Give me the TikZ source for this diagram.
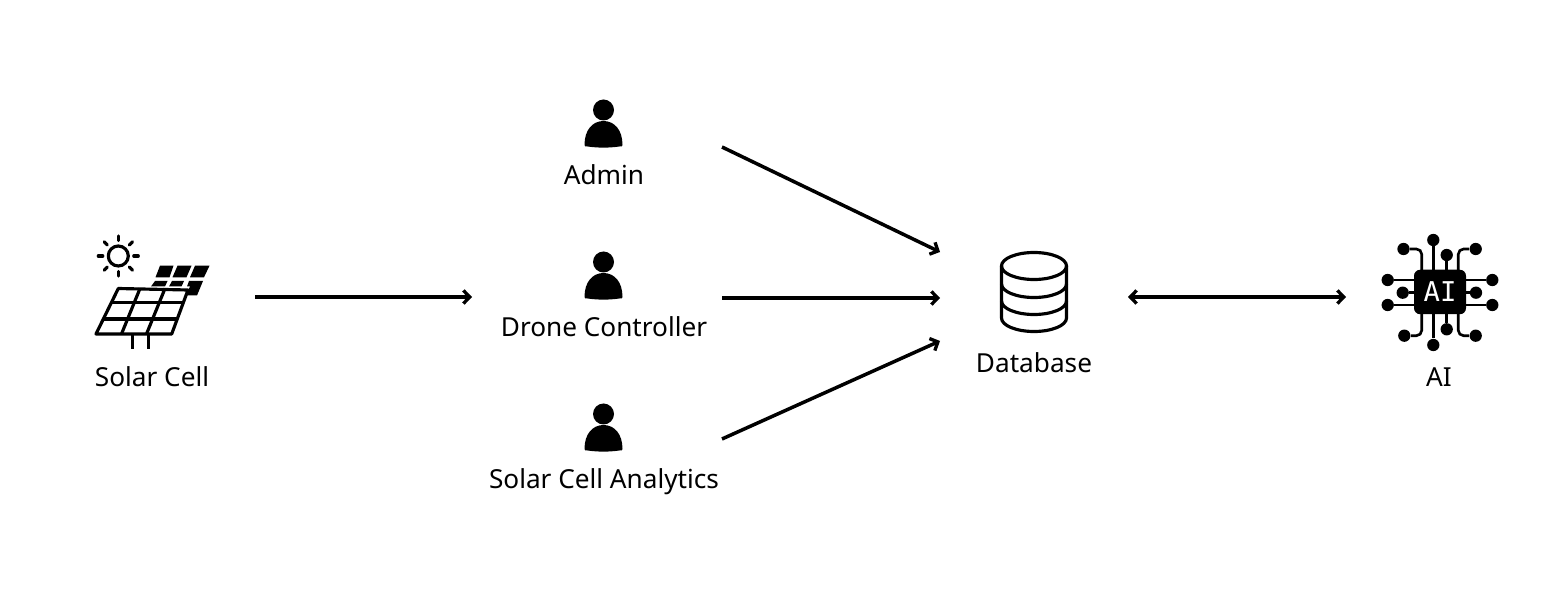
\documentclass[tikz,border=0pt]{standalone}
\usepackage{fontspec}
\setmainfont{Noto Sans}
\newfontfamily\chipfont{DejaVu Sans Mono}
\usetikzlibrary{arrows.meta}
\tikzset{
  label/.style={font=\fontsize{14.9pt}{17pt}\selectfont, inner sep=0pt, text height=12.4pt, text depth=1.6pt},
  flow/.style={line width=2pt, -{Straight Barb[length=3.6pt,width=7.5pt,line width=1.9pt]}},
  bothflow/.style={line width=2pt, {Straight Barb[length=3.6pt,width=7.5pt,line width=1.9pt]}-{Straight Barb[length=3.6pt,width=7.5pt,line width=1.9pt]}},
  icon/.style={line width=1.8pt, line join=round},
  wire/.style={line width=1.5pt},
  dot/.style={circle, fill=black, minimum size=7pt, inner sep=0pt},
  person/.pic={
    \fill (0,-188) circle[radius=10.5];
    \fill (-19,-153) .. controls (-19,-168) and (-11,-177) .. (0,-177)
      .. controls (11,-177) and (19,-168) .. (19,-153)
      .. controls (19,-151.5) and (18,-151.5) .. (16,-151.5)
      .. controls (5,-150) and (-5,-150) .. (-16,-151.5)
      .. controls (-18,-151.5) and (-19,-151.5) .. (-19,-153) -- cycle;
  }
}
\begin{document}
\begin{tikzpicture}[x=0.02cm, y=-0.02cm]
  \useasboundingbox (0,0) rectangle (1556,594);

  % solar cell
  \draw[icon] (118.3,256) circle[radius=10];
  \foreach \a in {0,45,...,315}
    \draw[icon, line cap=round] (118.3,256) ++(\a:15.5) -- ++(\a:4.5);
  \draw[icon] (118.3,288.5) -- (188,290) -- (171.7,334) -- (96,334) -- cycle;
  \draw[icon] (111,302.5) -- (182.5,302.5);
  \draw[icon] (104,319) -- (177,319);
  \draw[icon] (140,288.5) -- (121.5,334);
  \draw[icon] (165,288.5) -- (146.5,334);
  \draw[icon] (132.3,334) -- (132.3,349);
  \draw[icon] (148.3,334) -- (148.3,349);
  \fill (160,265.7) -- (173.5,265.7) -- (169.5,277.3) -- (155.5,277.3) -- cycle;
  \fill (177.5,265.7) -- (191.5,265.7) -- (186.5,277.3) -- (172.5,277.3) -- cycle;
  \fill (195,265.7) -- (209.5,265.7) -- (204,277.3) -- (190,277.3) -- cycle;
  \fill (155,281) -- (167.5,281) -- (165,286.5) -- (151,286.5) -- cycle;
  \fill (172,281) -- (184,281) -- (181.5,286.5) -- (169,286.5) -- cycle;
  \fill (189,281) -- (203,281) -- (197,295.5) -- (186,295.5) -- (190,286.5) -- (187,286.5) -- cycle;
  \node[label] (solar) at (152,377) {Solar Cell};

  % people
  \pic at (603.5,298) {person};
  \pic at (603.5,450) {person};
  \pic at (603.5,602) {person};
  \node[label] (admin) at (604,175) {Admin};
  \node[label] (drone) at (604,327) {Drone Controller};
  \node[label] (analytics) at (604,479) {Solar Cell Analytics};

  % database
  \draw[icon] (1034,266) ellipse[x radius=32.5, y radius=13.5];
  \draw[icon] (1001.5,266) -- (1001.5,318) arc[start angle=180, end angle=0, x radius=32.5, y radius=13.5] -- (1066.5,266);
  \draw[icon] (1001.5,284) arc[start angle=180, end angle=0, x radius=32.5, y radius=13.5];
  \draw[icon] (1001.5,301) arc[start angle=180, end angle=0, x radius=32.5, y radius=13.5];
  \node[label] (database) at (1034,363) {Database};

  % ai chip
  \foreach \n/\p in {a/{1433.3,240}, b/{1446.7,255}, c/{1403.5,249}, d/{1475.7,249},
                     e/{1387.7,280}, f/{1402.7,292.7}, g/{1387.7,305},
                     h/{1492.3,280}, i/{1476,292.7}, j/{1492.3,305},
                     k/{1433.3,345}, l/{1446.7,329.3}, m/{1404.3,335.7}, n/{1475.7,335.7}}
    \node[dot] (dot\n) at (\p) {};
  \node[fill=black, rounded corners=3.5pt, minimum width=52*0.02cm, minimum height=44.5*0.02cm, inner sep=0pt,
        text=white, font=\chipfont\fontsize{15.5pt}{15.5pt}\selectfont] (chip) at (1440,292) {AI};
  \draw[wire] (dota) -- (1433.3,270);
  \draw[wire] (dotb) -- (1446.7,270);
  \draw[wire] (dotk) -- (1433.3,314);
  \draw[wire] (dotl) -- (1446.7,314);
  \draw[wire] (dote) -- (1414,280);
  \draw[wire] (dotf) -- (1414,292.7);
  \draw[wire] (dotg) -- (1414,305);
  \draw[wire] (doth) -- (1466,280);
  \draw[wire] (doti) -- (1466,292.7);
  \draw[wire] (dotj) -- (1466,305);
  \draw[wire, rounded corners=3pt] (dotc) -- (1421.7,249) -- (1421.7,270);
  \draw[wire, rounded corners=3pt] (dotd) -- (1458.3,249) -- (1458.3,270);
  \draw[wire, rounded corners=3pt] (dotm) -- (1421.7,335.7) -- (1421.7,314);
  \draw[wire, rounded corners=3pt] (dotn) -- (1458.3,335.7) -- (1458.3,314);
  \node[label] (ai) at (1439,377) {AI};

  % connectors
  \coordinate (solarout) at (255,297);
  \coordinate (peoplein) at (472,297);
  \coordinate (adminout) at (722,147);
  \coordinate (droneout) at (722,298);
  \coordinate (analyticsout) at (722,439);
  \coordinate (dbtop) at (940,252);
  \coordinate (dbleft) at (940,298);
  \coordinate (dbbottom) at (940,341);
  \coordinate (dbright) at (1128,297);
  \coordinate (aileft) at (1346,297);
  \draw[flow] (solarout) -- (peoplein);
  \draw[flow] (adminout) -- (dbtop);
  \draw[flow] (droneout) -- (dbleft);
  \draw[flow] (analyticsout) -- (dbbottom);
  \draw[bothflow] (dbright) -- (aileft);
\end{tikzpicture}
\end{document}
